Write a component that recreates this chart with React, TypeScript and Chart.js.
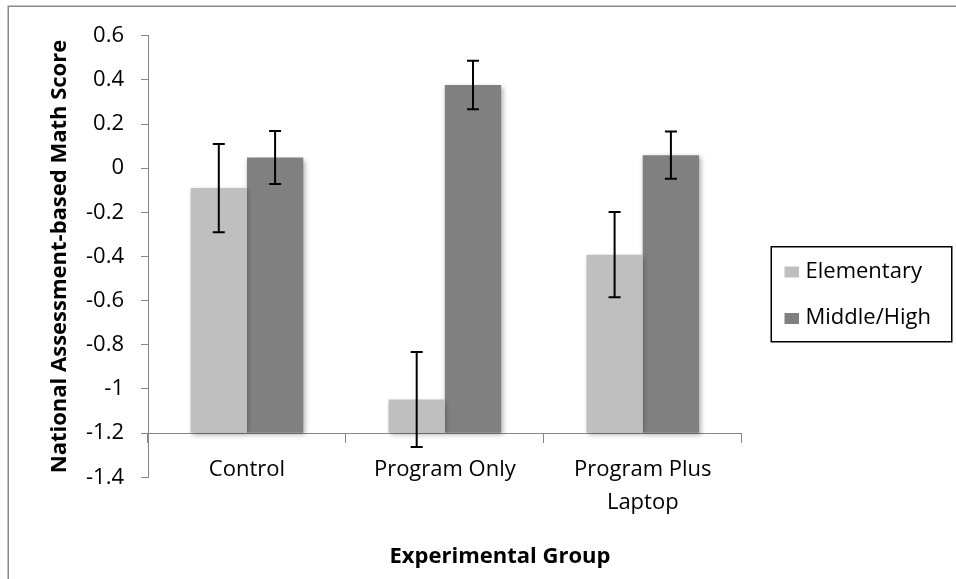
import React, { useEffect, useRef } from 'react';
import { Chart, registerables } from 'chart.js';

Chart.register(...registerables);

// ---- data ----
const categories: (string | string[])[] = ['Control', 'Program Only', ['Program Plus', 'Laptop']];
const seriesNames = ['Elementary', 'Middle/High'];
const elementaryValues = [-0.09, -1.048, -0.392];
const middleHighValues = [0.048, 0.377, 0.059];
const elementaryErrors = [0.2, 0.215, 0.193];
const middleHighErrors = [0.12, 0.11, 0.107];
const yMin = -1.4;
const yMax = 0.6;
const yStep = 0.2;
const xAxisCrossesAt = -1.2;
const yAxisTitle = 'National Assessment-based Math Score';
const xAxisTitle = 'Experimental Group';

const seriesColors = ['#BFBFBF', '#808080'];
const axisColor = '#868686';
const FONT = "'Open Sans', sans-serif";

const framePlugin = {
  id: 'frame',
  beforeDraw(chart: any) {
    const ctx = chart.ctx;
    ctx.save();
    ctx.fillStyle = '#ffffff';
    ctx.fillRect(0, 0, chart.width, chart.height);
    ctx.strokeStyle = '#8a8a8a';
    ctx.lineWidth = 1.5;
    ctx.beginPath();
    ctx.moveTo(8.25, chart.height);
    ctx.lineTo(8.25, 6.25);
    ctx.lineTo(chart.width, 6.25);
    ctx.stroke();
    ctx.restore();
  },
};

const shadowPlugin = {
  id: 'barShadow',
  beforeDatasetsDraw(chart: any) {
    const ctx = chart.ctx;
    ctx.save();
    ctx.shadowColor = 'rgba(0,0,0,0.32)';
    ctx.shadowBlur = 5;
    ctx.shadowOffsetX = 1.5;
    ctx.shadowOffsetY = 2;
  },
  afterDatasetsDraw(chart: any) {
    chart.ctx.restore();
  },
};

const errorBarPlugin = {
  id: 'errorBars',
  afterDatasetsDraw(chart: any, _args: any, opts: any) {
    const ctx = chart.ctx;
    const y = chart.scales.y;
    const errs: number[][] = opts.errors || [];
    ctx.save();
    ctx.strokeStyle = '#000000';
    ctx.lineWidth = 2;
    chart.data.datasets.forEach((ds: any, di: number) => {
      const meta = chart.getDatasetMeta(di);
      meta.data.forEach((bar: any, i: number) => {
        const v = ds.data[i];
        const e = errs[di] ? errs[di][i] : 0;
        const x = bar.x;
        const yTop = y.getPixelForValue(v + e);
        const yBot = y.getPixelForValue(v - e);
        const half = opts.capWidth / 2;
        ctx.beginPath();
        ctx.moveTo(x, yTop);
        ctx.lineTo(x, yBot);
        ctx.moveTo(x - half, yTop);
        ctx.lineTo(x + half, yTop);
        ctx.moveTo(x - half, yBot);
        ctx.lineTo(x + half, yBot);
        ctx.stroke();
      });
    });
    ctx.restore();
  },
};

const boxedLegendPlugin = {
  id: 'boxedLegend',
  afterDraw(chart: any, _args: any, opts: any) {
    const ctx = chart.ctx;
    ctx.save();
    ctx.strokeStyle = '#000000';
    ctx.lineWidth = 1.5;
    ctx.strokeRect(opts.left, opts.top, opts.width, opts.height);
    ctx.font = `22px ${FONT}`;
    ctx.textAlign = 'left';
    ctx.textBaseline = 'alphabetic';
    chart.data.datasets.forEach((ds: any, i: number) => {
      const cy = opts.firstY + i * opts.spacing;
      ctx.fillStyle = ds.backgroundColor;
      ctx.fillRect(opts.swatchX, cy - 5.5, 14.5, 11);
      ctx.fillStyle = '#000000';
      ctx.fillText(ds.label, opts.textX, cy + 5.5);
    });
    ctx.restore();
  },
};

const xTitlePlugin = {
  id: 'xTitle',
  afterDraw(chart: any, _args: any, opts: any) {
    const ctx = chart.ctx;
    ctx.save();
    ctx.font = `bold 22px ${FONT}`;
    ctx.fillStyle = '#000000';
    ctx.textAlign = 'center';
    ctx.textBaseline = 'alphabetic';
    ctx.fillText(opts.text, opts.x, opts.y);
    ctx.restore();
  },
};

export default function App() {
  const ref = useRef<HTMLCanvasElement>(null);

  useEffect(() => {
    const canvas = ref.current;
    if (!canvas) return;
    const chart = new Chart(canvas, {
      type: 'bar',
      data: {
        labels: categories as any,
        datasets: [
          {
            label: seriesNames[0],
            data: elementaryValues,
            backgroundColor: seriesColors[0],
            borderWidth: 0,
            base: xAxisCrossesAt,
            categoryPercentage: 0.569,
            barPercentage: 1.0,
          } as any,
          {
            label: seriesNames[1],
            data: middleHighValues,
            backgroundColor: seriesColors[1],
            borderWidth: 0,
            base: xAxisCrossesAt,
            categoryPercentage: 0.569,
            barPercentage: 1.0,
          } as any,
        ],
      },
      options: {
        responsive: false,
        animation: false,
        devicePixelRatio: 1,
        layout: { padding: { left: 47, right: 214.3, top: 35.7, bottom: 101.7 } },
        plugins: {
          legend: { display: false },
          tooltip: { enabled: false },
          errorBars: { errors: [elementaryErrors, middleHighErrors], capWidth: 12 },
          boxedLegend: {
            left: 771.25,
            top: 246.75,
            width: 180.5,
            height: 95,
            swatchX: 784.5,
            textX: 805.5,
            firstY: 272,
            spacing: 46.5,
          },
          xTitle: { text: xAxisTitle, x: 500, y: 563.3 },
        } as any,
        scales: {
          x: {
            type: 'category',
            position: { y: xAxisCrossesAt } as any,
            offset: true,
            grid: {
              display: true,
              offset: true,
              drawOnChartArea: false,
              drawTicks: true,
              tickLength: 9,
              color: axisColor,
              lineWidth: 1,
            },
            border: { display: true, color: axisColor, width: 1 },
            ticks: {
              color: '#000000',
              font: { family: FONT, size: 22, lineHeight: 1.5 },
              padding: 11,
              maxRotation: 0,
              autoSkip: false,
            },
            afterFit: (scale: any) => {
              scale.height = 0;
            },
          },
          y: {
            type: 'linear',
            position: 'left',
            min: yMin,
            max: yMax,
            grid: {
              display: true,
              drawOnChartArea: false,
              drawTicks: true,
              tickLength: 7,
              color: axisColor,
              lineWidth: 1,
            },
            border: { display: true, color: axisColor, width: 1 },
            ticks: {
              stepSize: yStep,
              color: '#000000',
              font: { family: FONT, size: 22, lineHeight: 1.2 },
              padding: 17,
              callback: (v: any) => String(Math.round(Number(v) * 10) / 10),
            },
            title: {
              display: true,
              text: yAxisTitle,
              color: '#000000',
              font: { family: FONT, size: 22, weight: 'bold', lineHeight: 1.2 },
              padding: 0,
            },
            afterFit: (scale: any) => {
              scale.width = 101;
            },
          },
        },
      },
      plugins: [framePlugin, shadowPlugin, errorBarPlugin, boxedLegendPlugin, xTitlePlugin],
    });
    return () => chart.destroy();
  }, []);

  return (
    <div style={{ position: 'absolute', left: 0, top: 0, width: 956, height: 579, background: '#ffffff' }}>
      <canvas ref={ref} width={956} height={579} style={{ display: 'block' }} />
    </div>
  );
}
